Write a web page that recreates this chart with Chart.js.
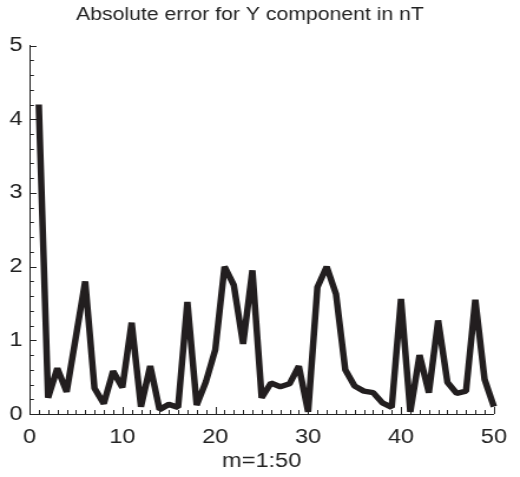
<!DOCTYPE html>
<html>
<head>
<meta charset="utf-8">
<script src="https://cdn.jsdelivr.net/npm/chart.js@4/dist/chart.umd.min.js"></script>
<style>
  html, body { margin: 0; padding: 0; background: #fff; }
  /* the reference figure is stretched sideways, so the whole chart is too */
  #wrap { width: 441px; height: 477px; transform: scaleX(1.179); transform-origin: 0 0; }
</style>
</head>
<body>
<div id="wrap"><canvas id="errChart" width="441" height="477"></canvas></div>
<script>
// m = 1:50
const mValues = [1,2,3,4,5,6,7,8,9,10,11,12,13,14,15,16,17,18,19,20,
                 21,22,23,24,25,26,27,28,29,30,31,32,33,34,35,36,37,38,39,40,
                 41,42,43,44,45,46,47,48,49,50];

// absolute error for Y component, nT
const absError = [4.2,0.22,0.62,0.3,1.05,1.8,0.35,0.14,0.58,0.36,
                  1.24,0.1,0.65,0.06,0.13,0.09,1.52,0.12,0.44,0.87,
                  2.0,1.75,0.95,1.95,0.22,0.42,0.37,0.41,0.65,0.03,
                  1.72,2.0,1.63,0.6,0.38,0.31,0.29,0.15,0.09,1.56,
                  0.03,0.8,0.29,1.27,0.43,0.28,0.31,1.55,0.47,0.1];

const xTicks = [0,10,20,30,40,50];
const yTicks = [0,1,2,3,4,5];

const FONT = '"Liberation Sans", Arial, Helvetica, sans-serif';
const INK = "#222";

// MATLAB style ticks pointing into the plot
const innerTicks = {
    id: "innerTicks",
    beforeDatasetsDraw(chart){
        const ctx = chart.ctx;
        const xs = chart.scales.x;
        const ys = chart.scales.y;
        const area = chart.chartArea;
        ctx.save();
        ctx.strokeStyle = INK;
        ctx.lineWidth = 1;
        ctx.beginPath();
        for(let v = 0; v <= 50; v++){
            const px = Math.round(xs.getPixelForValue(v)) + 0.5;
            const len = (v % 10 === 0) ? 7 : 4;
            ctx.moveTo(px, area.bottom);
            ctx.lineTo(px, area.bottom - len);
        }
        for(let i = 0; i <= 25; i++){
            const py = Math.round(ys.getPixelForValue(i / 5)) + 0.5;
            const len = (i % 5 === 0) ? 6 : 3.8;
            ctx.moveTo(area.left, py);
            ctx.lineTo(area.left + len, py);
        }
        ctx.stroke();
        ctx.restore();
    }
};

new Chart(document.getElementById("errChart"), {
    type: "line",
    data: {
        datasets: [{
            data: mValues.map((m, i) => ({x: m, y: absError[i]})),
            borderColor: "#221e1f",
            borderWidth: 5.5,
            borderJoinStyle: "bevel",
            pointRadius: 0,
            tension: 0,
            fill: false,
            clip: false
        }]
    },
    options: {
        responsive: false,
        animation: false,
        layout: { padding: { left: 0, right: 17, top: 0, bottom: 0 } },
        plugins: {
            legend: { display: false },
            tooltip: { enabled: false },
            title: {
                display: true,
                text: "Absolute error for Y component in nT",
                color: INK,
                font: { family: FONT, size: 18, weight: "normal" },
                padding: { top: 4, bottom: 20 }
            }
        },
        scales: {
            x: {
                type: "linear",
                min: 0,
                max: 50,
                afterBuildTicks(scale){ scale.ticks = xTicks.map(v => ({value: v})); },
                afterFit(scale){ scale.height = 63; },
                ticks: { color: INK, font: { family: FONT, size: 20 }, padding: 11, maxRotation: 0 },
                grid: { display: false, drawTicks: false },
                border: { display: true, color: INK, width: 1 },
                title: {
                    display: true,
                    text: "m=1:50",
                    color: INK,
                    font: { family: FONT, size: 20 },
                    padding: { top: 0, bottom: 4 }
                }
            },
            y: {
                min: 0,
                max: 5,
                afterBuildTicks(scale){ scale.ticks = yTicks.map(v => ({value: v})); },
                afterFit(scale){ scale.width = 25; },
                ticks: { color: INK, font: { family: FONT, size: 20 }, padding: 6 },
                grid: { display: false, drawTicks: false },
                border: { display: true, color: INK, width: 1 }
            }
        }
    },
    plugins: [innerTicks]
});
</script>
</body>
</html>
